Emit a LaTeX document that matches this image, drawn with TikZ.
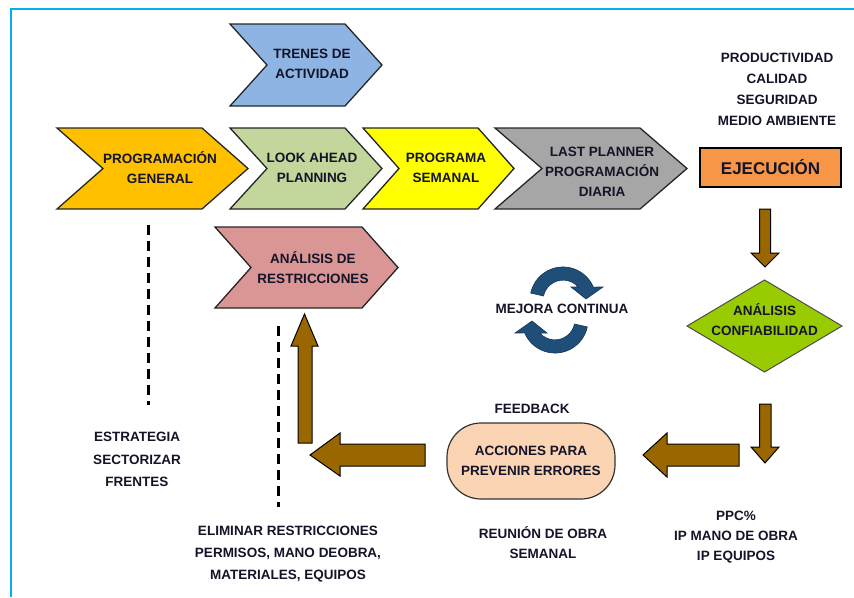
\documentclass[tikz,border=0pt]{standalone}
\usepackage{fontspec}
\setmainfont{Liberation Sans}
\usetikzlibrary{calc}
\definecolor{frameblue}{HTML}{00B0F0}
\definecolor{txt}{HTML}{141428}
\definecolor{cTrenes}{HTML}{8EB4E3}
\definecolor{cGeneral}{HTML}{FFC000}
\definecolor{cLook}{HTML}{C3D69B}
\definecolor{cSemanal}{HTML}{FFFF00}
\definecolor{cLast}{HTML}{A6A6A6}
\definecolor{cRestr}{HTML}{D99694}
\definecolor{cEjec}{HTML}{F79646}
\definecolor{cConf}{HTML}{99CC00}
\definecolor{cAcc}{HTML}{FBD4B4}
\definecolor{cBrown}{HTML}{996600}
\definecolor{cLoop}{HTML}{1F4E79}
\newcommand\mychev[6]{%
  \filldraw[fill=#6, chevline] (#1,#3) -- (#2,#3) -- ({#2+#5},{(#3+#4)/2}) -- (#2,#4) -- (#1,#4) -- ({#1+#5},{(#3+#4)/2}) -- cycle;}
\begin{document}
\begin{tikzpicture}[x=1pt,y=-1pt,
  lbl/.style={font=\bfseries\fontsize{13.5}{20}\selectfont, align=center, text=txt, inner sep=0pt},
  chevline/.style={draw=black!85, line width=1.3pt, line join=miter},
  barrow/.style={fill=cBrown, draw=black, line width=1pt, line join=miter},
  dashline/.style={line width=3pt, dash pattern=on 10pt off 6pt, black},
  loopstyle/.style={fill=cLoop, draw=cLoop!70!black, line width=0.6pt}]
\useasboundingbox (0,0) rectangle (854,597);
% frame
\draw[frameblue, line width=2pt] (11,597) -- (11,9) -- (854,9);
% chevrons
\mychev{230}{345}{24}{106}{37}{cTrenes}
\mychev{57}{202}{128}{209}{46}{cGeneral}
\mychev{230}{345}{128}{209}{37}{cLook}
\mychev{363}{478}{128}{209}{36}{cSemanal}
\mychev{495}{640}{128}{209}{47}{cLast}
\mychev{215}{362}{227}{308}{36}{cRestr}
\node[lbl] (trenes) at (312,64) {TRENES DE\\ACTIVIDAD};
\node[lbl] (pg) at (160,168) {PROGRAMACIÓN\\GENERAL};
\node[lbl] (la) at (312,168) {LOOK AHEAD\\PLANNING};
\node[lbl] (ps) at (446,168) {PROGRAMA\\SEMANAL};
\node[lbl] (lp) at (602,172) {LAST PLANNER\\PROGRAMACIÓN\\DIARIA};
\node[lbl] (ar) at (313,268) {ANÁLISIS DE\\RESTRICCIONES};
% right column
\node[lbl, font=\bfseries\fontsize{13.5}{21}\selectfont] (prod) at (777,89) {PRODUCTIVIDAD\\CALIDAD\\SEGURIDAD\\MEDIO AMBIENTE};
\node[draw=black, line width=1.3pt, fill=cEjec, minimum width=141pt, minimum height=39pt, inner sep=0pt,
  font=\bfseries\fontsize{17}{20}\selectfont, text=txt] (ejec) at (770.5,167.5) {EJECUCIÓN};
\filldraw[fill=cConf, draw=black!70, line width=1pt] (687,326) -- (764.5,280) -- (842,326) -- (764.5,372) -- cycle;
\node[lbl] (conf) at (764.5,320) {ANÁLISIS\\CONFIABILIDAD};
% brown block arrows
\filldraw[barrow] (759.5,209) -- (770.5,209) -- (770.5,253) -- (779,253) -- (765,267) -- (751,253) -- (759.5,253) -- cycle;
\filldraw[barrow] (759.5,404) -- (771,404) -- (771,447) -- (779,447) -- (765,463) -- (751,447) -- (759.5,447) -- cycle;
\filldraw[barrow] (739,444) -- (739,466) -- (667,466) -- (667,477) -- (643,455) -- (667,433) -- (667,444) -- cycle;
\filldraw[barrow] (425,444) -- (425,466) -- (340,466) -- (340,476) -- (310,455) -- (340,433) -- (340,444) -- cycle;
\filldraw[barrow] (298,443) -- (298,346) -- (291,346) -- (304.5,314) -- (318,346) -- (312,346) -- (312,443) -- cycle;
% feedback box
\node[lbl] (fb) at (532,409) {FEEDBACK};
\node[lbl, draw=black!80, line width=1.2pt, fill=cAcc, minimum width=168pt, minimum height=76pt, rounded corners=34pt] (acc) at (531,461) {ACCIONES PARA\\PREVENIR ERRORES};
\node[lbl] (reunion) at (543,542.5) {REUNIÓN DE OBRA\\SEMANAL};
\node[lbl] (ppc) at (736,537) {PPC\%\\IP MANO DE OBRA\\IP EQUIPOS};
% mejora continua
\filldraw[loopstyle] (530.7,293.1) arc[start angle=192, end angle=337, radius=33] -- (603,287) -- (586,299) -- (571,287) -- (578.2,287) arc[start angle=319, end angle=192, radius=20] -- cycle;
\begin{scope}[rotate around={180:(559,310)}]
\filldraw[loopstyle] (530.7,293.1) arc[start angle=192, end angle=337, radius=33] -- (603,287) -- (586,299) -- (571,287) -- (578.2,287) arc[start angle=319, end angle=192, radius=20] -- cycle;
\end{scope}
\node[lbl] (mejora) at (562,309) {MEJORA CONTINUA};
% left texts and dashed lines
\node[lbl, font=\bfseries\fontsize{13.5}{22.5}\selectfont] (estr) at (137,459.5) {ESTRATEGIA\\SECTORIZAR\\FRENTES};
\node[lbl, font=\bfseries\fontsize{13.5}{22}\selectfont] (elim) at (288,554) {ELIMINAR RESTRICCIONES\\PERMISOS, MANO DEOBRA,\\MATERIALES, EQUIPOS};
\coordinate (d1a) at (148,225);
\coordinate (d1b) at (148,405);
\coordinate (d2a) at (278,326);
\coordinate (d2b) at (278,507);
\draw[dashline] (d1a) -- (d1b);
\draw[dashline] (d2a) -- (d2b);
\end{tikzpicture}
\end{document}
